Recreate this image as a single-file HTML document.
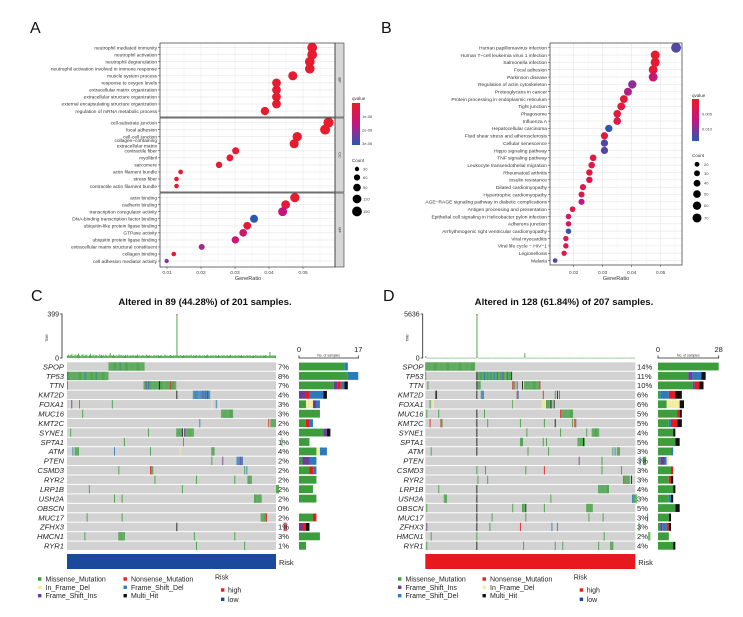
<!DOCTYPE html>
<html><head><meta charset="utf-8">
<style>
html,body{margin:0;padding:0;background:#fff;}
svg{display:block;font-family:"Liberation Sans",sans-serif;}
</style></head>
<body>
<svg id="fig" width="743" height="617" viewBox="0 0 743 617" xmlns="http://www.w3.org/2000/svg">
<defs>
<linearGradient id="qgrad" x1="0" y1="0" x2="0" y2="1">
<stop offset="0" stop-color="rgb(236,28,36)"/><stop offset="0.5" stop-color="rgb(196,22,128)"/><stop offset="1" stop-color="rgb(40,90,178)"/>
</linearGradient>
</defs>
</svg>
<script>
// ---------- Panel A data ----------
const aTerms=["neutrophil mediated immunity","neutrophil activation","neutrophil degranulation","neutrophil activation involved in immune response","muscle system process","response to oxygen levels","extracellular matrix organization","extracellular structure organization","external encapsulating structure organization","regulation of mRNA metabolic process",
"cell-substrate junction","focal adhesion","cell-cell junction","collagen-containing extracellular matrix","contractile fiber","myofibril","sarcomere","actin filament bundle","stress fiber","contractile actin filament bundle",
"actin binding","cadherin binding","transcription coregulator activity","DNA-binding transcription factor binding","ubiquitin-like protein ligase binding","GTPase activity","ubiquitin protein ligase binding","extracellular matrix structural constituent","collagen binding","cell adhesion mediator activity"];
const aFacets=["BP","CC","MF"];
const aRatio=[0.0527,0.0527,0.0520,0.0520,0.0470,0.0422,0.0422,0.0422,0.0422,0.0388,
0.0575,0.0565,0.0483,0.0474,0.0302,0.0285,0.0253,0.0140,0.0128,0.0128,
0.0476,0.0449,0.0440,0.0356,0.0336,0.0324,0.0301,0.0202,0.0120,0.0099];
const aCount=[150,150,145,145,130,120,120,120,120,110,160,155,135,130,80,75,65,35,33,33,135,120,125,100,95,90,85,55,33,28];
const aQ=[2e-7,2e-7,2e-7,2e-7,2e-7,2e-7,2e-7,2e-7,2e-7,2e-7,1e-7,1e-7,2e-7,2e-7,2e-7,2e-7,2e-7,2e-7,2e-7,2e-7,2e-7,4e-7,1.5e-6,3.1e-6,3e-7,1.2e-6,1.4e-6,1.8e-6,3e-7,2.3e-6];
const aTicks=[0.01,0.02,0.03,0.04,0.05];
const aTickLabels=["0.01","0.02","0.03","0.04","0.05"];
const aLegendCounts=[30,60,90,120,150];
const aLegendQ=["1e-06","2e-06","3e-06"];
const aLegendQv=[1e-6,2e-6,3e-6];

// ---------- Panel B data ----------
const bTerms=["Human papillomavirus infection","Human T-cell leukemia virus 1 infection","Salmonella infection","Focal adhesion","Parkinson disease","Regulation of actin cytoskeleton","Proteoglycans in cancer","Protein processing in endoplasmic reticulum","Tight junction","Phagosome","Influenza A","Hepatocellular carcinoma","Fluid shear stress and atherosclerosis","Cellular senescence","Hippo signaling pathway","TNF signaling pathway","Leukocyte transendothelial migration","Rheumatoid arthritis","Insulin resistance","Dilated cardiomyopathy","Hypertrophic cardiomyopathy","AGE-RAGE signaling pathway in diabetic complications","Antigen processing and presentation","Epithelial cell signaling in Helicobacter pylori infection","Adherens junction","Arrhythmogenic right ventricular cardiomyopathy","Viral myocarditis","Viral life cycle - HIV-1","Legionellosis","Malaria"];
const bRatio=[0.0553,0.0481,0.0481,0.0474,0.0474,0.0402,0.0387,0.0373,0.0364,0.0350,0.0350,0.0321,0.0306,0.0306,0.0306,0.0267,0.0262,0.0254,0.0254,0.0232,0.0227,0.0227,0.0196,0.0182,0.0182,0.0182,0.0173,0.0173,0.0167,0.0136];
const bCount=[85,70,70,68,68,60,55,53,52,50,50,47,45,45,45,38,37,36,36,33,32,32,28,26,26,26,25,25,24,19];
const bQ=[0.0120,0.0010,0.0010,0.0015,0.0065,0.0095,0.0080,0.0020,0.0020,0.0020,0.0025,0.0135,0.0020,0.0120,0.0120,0.0020,0.0025,0.0020,0.0030,0.0030,0.0030,0.0070,0.0030,0.0040,0.0040,0.0135,0.0030,0.0030,0.0030,0.0120];
const bTicks=[0.02,0.03,0.04,0.05];
const bTickLabels=["0.02","0.03","0.04","0.05"];
const bLegendCounts=[20,30,40,50,60,70];
const bLegendQ=["0.005","0.010"];
const bLegendQv=[0.005,0.010];

// ---------- Oncoplot data ----------
const genes=["SPOP","TP53","TTN","KMT2D","FOXA1","MUC16","KMT2C","SYNE1","SPTA1","ATM","PTEN","CSMD3","RYR2","LRP1B","USH2A","OBSCN","MUC17","ZFHX3","HMCN1","RYR1"];
const cPct=["7%","8%","7%","4%","3%","3%","2%","4%","1%","4%","2%","2%","2%","2%","2%","0%","2%","1%","3%","1%"];
const dPct=["14%","11%","10%","6%","6%","5%","5%","4%","5%","3%","3%","3%","3%","4%","3%","5%","3%","3%","2%","4%"];
const cEvents=[
[[38,70,'M'],[48,48,'D']],
[[0,37,'M'],[0,0,'D'],[16,16,'D'],[26,26,'D']],
[[0,0,'M'],[70,99,'M'],[72,72,'S'],[74,74,'D'],[84,84,'H'],[94,94,'N']],
[[100,100,'H'],[115,130,'D'],[124,124,'S'],[126,126,'S'],[128,128,'N']],
[[4,4,'S'],[11,11,'M'],[41,41,'M'],[132,132,'I'],[136,136,'D'],[139,139,'I']],
[[14,14,'M'],[141,151,'M']],
[[121,121,'D'],[184,184,'N'],[186,190,'M']],
[[3,3,'M'],[74,74,'M'],[100,104,'M'],[105,105,'H'],[107,107,'S'],[108,115,'M']],
[[52,52,'M'],[106,106,'M'],[196,196,'M']],
[[5,5,'D'],[7,10,'M'],[43,43,'D'],[76,76,'M'],[103,103,'I'],[132,134,'M']],
[[132,132,'M'],[142,142,'S'],[155,160,'D'],[158,158,'S']],
[[47,47,'M'],[76,76,'N'],[77,78,'M'],[162,162,'M'],[164,164,'D']],
[[80,80,'M'],[118,118,'M'],[153,153,'M'],[165,168,'M']],
[[20,20,'M'],[105,105,'M'],[191,193,'M']],
[[43,43,'M'],[50,50,'M'],[171,177,'M']],
[],
[[18,18,'M'],[50,50,'M'],[177,181,'M'],[182,182,'N']],
[[100,100,'H'],[198,198,'S'],[199,200,'N']],
[[16,16,'M'],[47,52,'M'],[116,116,'M'],[153,153,'M']],
[[118,118,'M'],[162,162,'M']]
];
const cBars=[
[['M',13],['D',1]],[['M',14],['D',3]],[['M',10],['S',1],['N',1],['D',1],['H',1]],[['S',2],['N',1],['D',4],['H',1]],
[['M',2],['I',2],['S',1],['D',1]],[['M',6]],[['M',2],['N',1],['D',1]],[['M',7],['S',1],['H',1]],[['M',3]],
[['M',5],['I',1],['D',2]],[['M',1],['S',2],['D',2]],[['M',3],['N',1],['D',1]],[['M',5]],[['M',4]],[['M',5]],[],
[['M',4],['N',1]],[['S',1],['N',1],['H',1]],[['M',6]],[['M',2]]
];
const dEvents=[
[[0,45,'M']],
[[0,0,'M'],[47,47,'H'],[48,78,'M'],[51,51,'D'],[54,54,'D'],[57,57,'D'],[60,60,'D'],[63,63,'D'],[66,66,'D'],[69,69,'D'],[71,71,'S'],[75,75,'S'],[79,79,'H']],
[[2,2,'M'],[47,47,'H'],[48,50,'M'],[80,80,'N'],[81,82,'M'],[84,84,'S'],[89,89,'H'],[91,104,'M'],[105,105,'N']],
[[9,9,'N'],[10,10,'H'],[47,47,'H'],[51,53,'D'],[84,84,'N'],[85,85,'D'],[108,108,'N'],[119,119,'M'],[121,121,'H'],[123,123,'D']],
[[4,4,'M'],[6,7,'I'],[80,80,'M'],[81,81,'I'],[107,110,'I'],[111,114,'M'],[115,115,'H'],[116,116,'M'],[118,118,'H']],
[[1,1,'M'],[12,12,'M'],[47,47,'H'],[54,54,'M'],[124,124,'N'],[125,135,'M']],
[[4,4,'N'],[14,14,'N'],[15,15,'M'],[47,47,'H'],[57,57,'M'],[87,87,'M'],[109,109,'M'],[119,119,'H'],[135,135,'M'],[137,137,'N'],[138,138,'D']],
[[47,47,'H'],[93,93,'M'],[124,124,'M'],[148,148,'M'],[153,159,'M']],
[[47,47,'H'],[87,89,'M'],[108,108,'M'],[111,111,'M'],[140,144,'M'],[145,145,'H'],[146,146,'M']],
[[5,5,'M'],[47,47,'H'],[94,94,'M'],[113,113,'M'],[172,172,'M'],[174,174,'D'],[176,178,'M']],
[[141,141,'S'],[162,162,'M'],[197,197,'D'],[200,202,'M']],
[[47,47,'M'],[55,55,'M'],[92,92,'M'],[109,109,'N'],[162,162,'M'],[180,180,'M']],
[[48,48,'M'],[57,57,'M'],[182,182,'N'],[183,187,'M'],[189,189,'H']],
[[12,12,'M'],[47,47,'H'],[159,168,'M']],
[[17,19,'M'],[47,47,'H'],[115,115,'M'],[190,190,'D'],[191,194,'M']],
[[1,1,'M'],[47,47,'H'],[80,80,'M'],[89,91,'M'],[92,92,'H'],[109,109,'M'],[148,153,'M']],
[[47,47,'H'],[61,61,'M'],[92,92,'M'],[150,150,'M'],[163,163,'M'],[204,204,'M']],
[[1,1,'S'],[47,47,'H'],[59,59,'M'],[87,87,'N'],[116,116,'D'],[121,121,'D'],[196,196,'M']],
[[5,5,'M'],[47,47,'M'],[164,164,'M'],[205,206,'M']],
[[1,1,'M'],[47,47,'H'],[90,90,'M'],[119,119,'M'],[126,126,'M'],[159,159,'M'],[170,172,'M']]
];
const dBars=[
[['M',28]],[['M',14],['S',2],['D',4],['H',2]],[['M',16],['S',1],['N',2],['H',2]],[['M',1],['D',4],['N',3],['H',3]],
[['M',4],['I',6],['H',2]],[['M',9],['N',1],['H',1]],[['M',5],['D',1],['N',3],['H',2]],[['M',7],['H',1]],[['M',8],['H',2]],
[['M',6],['D',1]],[['M',1],['S',2],['D',1],['I',1]],[['M',6],['N',1]],[['M',5],['N',1],['H',1]],[['M',7],['H',1]],
[['M',5],['D',1],['H',1]],[['M',8],['H',2]],[['M',5],['H',1]],[['M',1],['S',1],['D',2],['N',1],['H',1]],[['M',5]],[['M',7],['H',1]]
];
const cTmb=[22,30,20,26,36,18,24,32,21,27,40,23,17,28,34,20,24,31,22,18,
26,38,21,23,30,20,27,24,18,33,22,29,21,26,20,31,23,17,27,45,
24,21,30,22,20,26,18,33,23,28,21,24,20,27,22,30,18,26,23,21,
28,20,24,22,31,21,26,18,23,27,20,22,30,24,21,26,20,23,18,28,
22,24,21,27,20,23,26,18,22,30,21,24,20,23,27,22,18,26,21,24,
399,24,20,27,22,18,26,21,23,28,20,24,22,30,18,26,21,23,27,20,
22,28,18,24,21,26,20,23,30,22,18,27,21,24,20,26,23,18,28,22,
20,24,21,27,18,23,26,20,22,30,21,24,18,27,22,20,26,23,21,28,
18,24,22,20,27,21,23,26,18,22,24,20,28,21,23,18,26,22,20,24,
21,27,23,18,22,55,20,24,21,23,
22];
const dTmb=[250,30,20,40,25,35,20,30,45,25,20,35,30,25,40,20,30,25,35,20,30,25,20,35,30,40,25,20,30,35,25,20,30,40,25,35,20,30,25,20,35,30,25,40,20,30,25,
5636,30,25,35,20,30,40,25,20,35,30,25,20,30,35,40,25,20,30,25,35,20,30,25,40,30,20,35,25,30,20,25,35,30,40,20,25,30,35,20,30,25,40,30,
620,25,35,20,30,25,40,20,30,35,25,20,30,25,35,40,20,30,25,35,20,30,25,40,20,30,35,25,20,30,25,35,40,20,30,25,20,35,30,25,40,20,30,25,35,20,30,40,25,20,
35,30,25,20,30,35,40,25,20,30,25,35,20,30,25,40,30,20,35,25,30,20,25,35,30,40,20,25,30,35,20,30,25,40,30,20,25,35,30,20,25,40,30,35,20,25,30,35,20,30,25,40];

const typeColor={M:'#3C9D3C',N:'#E41A1C',I:'#F4EFA0',D:'#2B7BBA',S:'#6A3D9A',H:'#111111'};

// ---------- helpers ----------
const NS='http://www.w3.org/2000/svg';
const svg=document.getElementById('fig');
function mk(tag,at,parent){const e=document.createElementNS(NS,tag);for(const k in at)e.setAttribute(k,at[k]);(parent||svg).appendChild(e);return e;}
function tx(str,at,parent){const e=mk('text',at,parent);e.textContent=str;return e;}
function lerp(a,b,t){return a.map((v,i)=>Math.round(v+(b[i]-v)*t));}
function qcol(t){t=Math.max(0,Math.min(1,t));const R=[236,28,36],M=[196,22,128],B=[40,90,178];const c=t<0.5?lerp(R,M,t*2):lerp(M,B,(t-0.5)*2);return 'rgb('+c.join(',')+')';}
function grp(name){const g=mk('g',{});return g;}

// ---------- Panel labels ----------
[['A',30,33],['B',381,33],['C',31,301],['D',383,301]].forEach(p=>{
  const t=tx(p[0],{x:p[1],y:p[2],'font-size':16,fill:'#111'});
  
  
});

// ---------- Panel A ----------
(function(){
  const g=grp('panel-a-dotplot');
  const X0=160,X1=335;
  const xA=v=>167+(v-0.01)*3400;
  const tops=[43,118,193],H=74;
  const qDom=[0,3.13e-6];
  const rA=c=>0.4*Math.sqrt(c);
  tops.forEach((top,f)=>{
    const bg=mk('rect',{x:X0,y:top,width:X1-X0,height:H,fill:'#fff'},g);
    
    
    for(let v=0.005;v<0.06;v+=0.005){const x=xA(v);if(x<X0||x>X1)continue;
      const l=mk('line',{x1:x,x2:x,y1:top,y2:top+H,stroke:Math.abs((v*200)%2-1)<0.01?'#f3f3f3':'#e6e6e6','stroke-width':Math.abs((v*200)%2-1)<0.01?0.4:0.6},g);
      
      }
    for(let j=0;j<10;j++){const y=top+4.6+j*7.05;
      const l=mk('line',{x1:X0,x2:X1,y1:y,y2:y,stroke:'#e6e6e6','stroke-width':0.6},g);
      
      }
    const st=mk('rect',{x:X1,y:top,width:9,height:H,fill:'#d6d6d6',stroke:'#333','stroke-width':0.6},g);
    
    
    const stt=tx(aFacets[f],{x:X1+4.5,y:top+H/2,'font-size':4,fill:'#333','text-anchor':'middle',transform:'rotate(90 '+(X1+4.5)+' '+(top+H/2)+')','dominant-baseline':'middle'},g);
    
    
  });
  aTerms.forEach((term,i)=>{
    const f=Math.floor(i/10),j=i%10;const y=tops[f]+4.6+j*7.05;
    const c=mk('circle',{cx:xA(aRatio[i]),cy:y,r:rA(aCount[i]),fill:qcol((aQ[i]-qDom[0])/(qDom[1]-qDom[0]))},g);
    
    
    const tk=mk('line',{x1:X0-2,x2:X0,y1:y,y2:y,stroke:'#333','stroke-width':0.5},g);
    
    
    if(term==="collagen-containing extracellular matrix"){
      const t1=tx("collagen−containing",{x:X0-3,y:y-1.6,'font-size':4.8,fill:'#333','text-anchor':'end'},g);
      
      
      const t2=tx("extracellular matrix",{x:X0-3,y:y+3.6,'font-size':4.8,fill:'#333','text-anchor':'end'},g);
      
      
    } else {
      const t=tx(term,{x:X0-3,y:y+1.7,'font-size':4.8,fill:'#333','text-anchor':'end'},g);
      
      
    }
  });
  tops.forEach(top=>{const b=mk('rect',{x:X0,y:top,width:X1-X0,height:H,fill:'none',stroke:'#333','stroke-width':0.7},g);
    
    });
  aTicks.forEach((v,i)=>{const x=xA(v);
    const l=mk('line',{x1:x,x2:x,y1:267,y2:269,stroke:'#333','stroke-width':0.5},g);
    
    
    const t=tx(aTickLabels[i],{x:x,y:274,'font-size':4.8,fill:'#444','text-anchor':'middle'},g);
    
    });
  const xt=tx('GeneRatio',{x:248,y:280,'font-size':5.5,fill:'#333','text-anchor':'middle'},g);
  
  
  const lt=tx('qvalue',{x:352,y:100,'font-size':4.5,fill:'#333'},g);
  
  
  const cb=mk('rect',{x:352,y:103,width:8,height:42,fill:'url(#qgrad)'},g);
  
  
  aLegendQ.forEach((s,i)=>{const y=103+42*(aLegendQv[i]-qDom[0])/(qDom[1]-qDom[0]);
    const t=tx(s,{x:362,y:y+1.5,'font-size':4,fill:'#444'},g);
    
    });
  const ct=tx('Count',{x:352,y:162,'font-size':4.5,fill:'#333'},g);
  
  
  let ly=169;
  aLegendCounts.forEach((c,i)=>{const r=rA(c);
    const cc=mk('circle',{cx:357,cy:ly,r:r,fill:'#000'},g);
    
    
    const t=tx(String(c),{x:363,y:ly+1.5,'font-size':4,fill:'#444'},g);
    
    
    ly+=r+rA(aLegendCounts[Math.min(i+1,aLegendCounts.length-1)])+3.2;});
})();

// ---------- Panel B ----------
(function(){
  const g=grp('panel-b-dotplot');
  const X0=550,X1=682,Y0=43,Y1=265;
  const xB=v=>573.7+(v-0.02)*2900;
  const yB=i=>47.7+i*7.34;
  const qDom=[0.0001,0.0139];
  const rB=c=>0.54*Math.sqrt(c);
  const bg=mk('rect',{x:X0,y:Y0,width:X1-X0,height:Y1-Y0,fill:'#fff'},g);
  
  
  for(let v=0.015;v<0.06;v+=0.005){const x=xB(v);if(x<X0||x>X1)continue;
    const major=Math.abs(Math.round(v*1000)%10)<1;
    const l=mk('line',{x1:x,x2:x,y1:Y0,y2:Y1,stroke:major?'#e4e4e4':'#f0f0f0','stroke-width':major?0.6:0.4},g);
    
    }
  bTerms.forEach((term,i)=>{const y=yB(i);
    const l=mk('line',{x1:X0,x2:X1,y1:y,y2:y,stroke:'#e6e6e6','stroke-width':0.6},g);
    
    });
  bTerms.forEach((term,i)=>{const y=yB(i);
    const c=mk('circle',{cx:xB(bRatio[i]),cy:y,r:rB(bCount[i]),fill:qcol((bQ[i]-qDom[0])/(qDom[1]-qDom[0]))},g);
    
    
    const tk=mk('line',{x1:X0-2,x2:X0,y1:y,y2:y,stroke:'#333','stroke-width':0.5},g);
    
    
    const t=tx(term.replace(/-/g,'−'),{x:X0-3,y:y+1.8,'font-size':4.9,fill:'#333','text-anchor':'end'},g);
    
    });
  const b=mk('rect',{x:X0,y:Y0,width:X1-X0,height:Y1-Y0,fill:'none',stroke:'#333','stroke-width':0.7},g);
  
  
  bTicks.forEach((v,i)=>{const x=xB(v);
    const l=mk('line',{x1:x,x2:x,y1:Y1,y2:Y1+2,stroke:'#333','stroke-width':0.5},g);
    
    
    const t=tx(bTickLabels[i],{x:x,y:274,'font-size':4.8,fill:'#444','text-anchor':'middle'},g);
    
    });
  const xt=tx('GeneRatio',{x:616,y:280,'font-size':5.5,fill:'#333','text-anchor':'middle'},g);
  
  
  const lt=tx('qvalue',{x:692,y:97,'font-size':4.5,fill:'#333'},g);
  
  
  const cb=mk('rect',{x:692,y:99,width:7,height:42,fill:'url(#qgrad)'},g);
  
  
  bLegendQ.forEach((s,i)=>{const y=99+42*(bLegendQv[i]-qDom[0])/(qDom[1]-qDom[0]);
    const t=tx(s,{x:702,y:y+1.5,'font-size':4,fill:'#444'},g);
    
    });
  const ct=tx('Count',{x:692,y:157,'font-size':4.5,fill:'#333'},g);
  
  
  let ly=164.3;
  bLegendCounts.forEach((c,i)=>{const r=rB(c);
    const cc=mk('circle',{cx:697,cy:ly,r:r,fill:'#000'},g);
    
    
    const t=tx(String(c),{x:704,y:ly+1.5,'font-size':4,fill:'#444'},g);
    
    
    ly+=r+rB(bLegendCounts[Math.min(i+1,bLegendCounts.length-1)])+3.6;});
})();

// ---------- Oncoplots ----------
function drawOnco(cfg,events,bars,pct,tmb){
  const g=grp(cfg.name);
  const N=tmb.length;
  const sw=(cfg.mx1-cfg.mx0)/N;
  const rowH=(cfg.my1-cfg.my0)/genes.length;
  const xs=s=>cfg.mx0+s*sw;
  const t=tx(cfg.title,{x:cfg.titleX,y:305,'font-size':9.6,'font-weight':'bold',fill:'#111','text-anchor':'middle'},g);
  
  
  const tmbMax=Math.max(...tmb);
  const yT=v=>cfg.tmbBot-(v/tmbMax)*(cfg.tmbBot-cfg.tmbTop);
  const ax=mk('path',{d:'M'+(cfg.axX-2)+' '+cfg.tmbTop+'H'+cfg.axX+'V'+cfg.tmbBot+'H'+(cfg.axX-2),fill:'none',stroke:'#222','stroke-width':0.8},g);
  
  
  const tl1=tx(String(tmbMax),{x:cfg.axX-3,y:cfg.tmbTop+2.5,'font-size':7,fill:'#222','text-anchor':'end'},g);
  
  
  const tl0=tx('0',{x:cfg.axX-3,y:cfg.tmbBot+2.5,'font-size':7,fill:'#222','text-anchor':'end'},g);
  
  
  const tt=tx('TMB',{x:cfg.axX-14,y:338,'font-size':3.5,fill:'#333','text-anchor':'middle',transform:'rotate(-90 '+(cfg.axX-14)+' 338)'},g);
  
  
  tmb.forEach((v,s)=>{const y=yT(v);
    const r=mk('rect',{x:xs(s)+0.1,y:y,width:Math.max(sw-0.2,0.5),height:Math.max(cfg.tmbBot-y,0.6),fill:'#3C9D3C'},g);
    
    
    if(v>0.5*tmbMax){const cap=mk('rect',{x:xs(s)+0.1,y:y,width:Math.max(sw-0.2,0.5),height:1.5,fill:'#E41A1C'},g);
      
      }
  });
  genes.forEach((gene,i)=>{const y=cfg.my0+i*rowH;
    const bg=mk('rect',{x:cfg.mx0,y:y,width:cfg.mx1-cfg.mx0,height:rowH-1,fill:'#d2d2d2'},g);
    
    
    events[i].forEach(ev=>{for(let s=ev[0];s<=ev[1];s++){
      const r=mk('rect',{x:xs(s),y:y,width:sw-0.25,height:rowH-1,fill:typeColor[ev[2]]},g);
      
      }});
    const gl=tx(gene,{x:cfg.labelX,y:y+rowH/2+2.3,'font-size':7.6,'font-style':'italic',fill:'#222','text-anchor':'end'},g);
    
    
    const pl=tx(pct[i],{x:cfg.pctX,y:y+rowH/2+2.3,'font-size':7.6,fill:'#222'},g);
    
    
    let bx=cfg.barX0;const unit=cfg.barW/cfg.barMax;
    bars[i].forEach(b=>{const w=b[1]*unit;
      const r=mk('rect',{x:bx,y:y+0.3,width:w,height:rowH-1.6,fill:typeColor[b[0]]},g);
      
      
      bx+=w;});
  });
  const ba=mk('path',{d:'M'+cfg.barX0+' 355.5V358H'+(cfg.barX0+cfg.barW)+'V355.5',fill:'none',stroke:'#222','stroke-width':0.8},g);
  
  
  const b0=tx('0',{x:cfg.barX0,y:352,'font-size':7.5,fill:'#222','text-anchor':'middle'},g);
  
  
  const b1=tx(String(cfg.barMax),{x:cfg.barX0+cfg.barW,y:352,'font-size':7.5,fill:'#222','text-anchor':'middle'},g);
  
  
  const bt=tx('No. of samples',{x:cfg.barX0+cfg.barW/2,y:356.5,'font-size':3.4,fill:'#333','text-anchor':'middle'},g);
  
  
  const rk=mk('rect',{x:cfg.mx0,y:554,width:cfg.mx1-cfg.mx0,height:15,fill:cfg.risk},g);
  
  
  const rl=tx('Risk',{x:cfg.mx1+3,y:565,'font-size':7.5,fill:'#222'},g);
  
  
  const rows=[579,587.3,595.7];
  cfg.legend.forEach((it,k)=>{const col=Math.floor(k/3),row=k%3;
    const sx=col?cfg.lc2:cfg.lc1;
    const sq=mk('rect',{x:sx,y:rows[row]-1.7,width:3.4,height:3.4,fill:typeColor[it[1]]},g);
    
    
    const lt=tx(it[0],{x:sx+7.5,y:rows[row]+2.5,'font-size':7,fill:'#222'},g);
    
    });
  const rt=tx('Risk',{x:cfg.rx,y:579.5,'font-size':7,fill:'#222'},g);
  
  
  [['high','#E41A1C',590],['low','#1B4A9C',599.3]].forEach(h=>{
    const sq=mk('rect',{x:cfg.rx+6,y:h[2]-1.7,width:3.4,height:3.4,fill:h[1]},g);
    
    
    const lt=tx(h[0],{x:cfg.rx+13,y:h[2]+2.5,'font-size':7,fill:'#222'},g);
    
    });
}
drawOnco({name:'panel-c-oncoplot',title:'Altered in 89 (44.28%) of 201 samples.',titleX:205,mx0:67,mx1:276,my0:362.3,my1:551,
  labelX:64,pctX:278,barX0:299,barW:59.3,barMax:17,axX:62,tmbTop:314,tmbBot:358,risk:'#1B4A9C',lc1:38,lc2:123.5,rx:215,
  legend:[['Missense_Mutation','M'],['In_Frame_Del','I'],['Frame_Shift_Ins','S'],['Nonsense_Mutation','N'],['Frame_Shift_Del','D'],['Multi_Hit','H']]},
  cEvents,cBars,cPct,cTmb);
drawOnco({name:'panel-d-oncoplot',title:'Altered in 128 (61.84%) of 207 samples.',titleX:564,mx0:425.3,mx1:635.3,my0:362.3,my1:551,
  labelX:423.5,pctX:637,barX0:658,barW:60.7,barMax:28,axX:422.7,tmbTop:314,tmbBot:358,risk:'#E8191C',lc1:398,lc2:482.5,rx:573.7,
  legend:[['Missense_Mutation','M'],['Frame_Shift_Ins','S'],['Frame_Shift_Del','D'],['Nonsense_Mutation','N'],['In_Frame_Del','I'],['Multi_Hit','H']]},
  dEvents,dBars,dPct,dTmb);
</script>
</body></html>
